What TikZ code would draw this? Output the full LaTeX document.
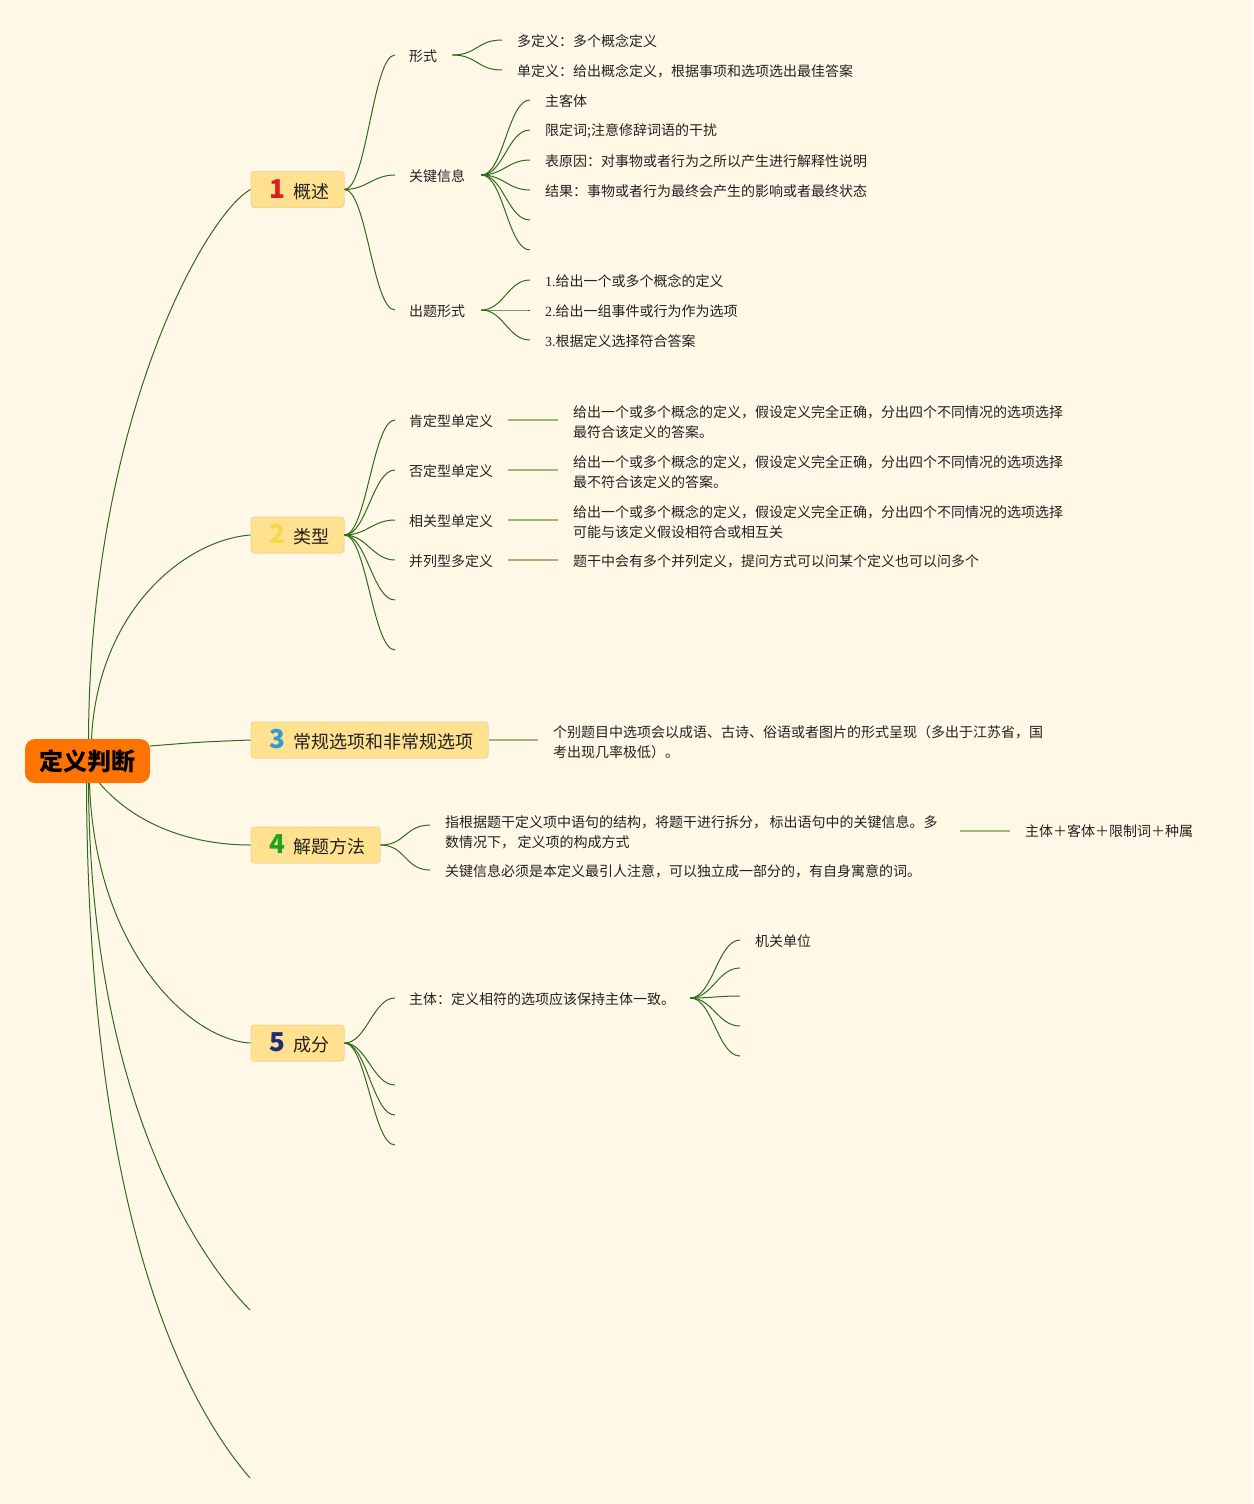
\documentclass[tikz,border=0pt]{standalone}
\usepackage{fontspec}
\setmainfont{Noto Sans CJK SC}
\newfontfamily\serifd{Liberation Serif}
\definecolor{bg}{HTML}{FFF8E6}
\definecolor{rootc}{HTML}{FF7300}
\definecolor{boxf}{HTML}{FFE18F}
\definecolor{boxd}{HTML}{F0D69A}
\definecolor{lineg}{HTML}{2F6A1F}
\definecolor{stemg}{HTML}{9CB87A}
\definecolor{txt}{HTML}{222222}
\definecolor{n1}{HTML}{D91F1F}
\definecolor{n2}{HTML}{F5D948}
\definecolor{n3}{HTML}{2E9AD8}
\definecolor{n4}{HTML}{22A022}
\definecolor{n5}{HTML}{1E2A7A}
\begin{document}
\begin{tikzpicture}[x=1pt,y=-1pt,
  edge/.style={draw=lineg, line width=1pt},
  stem/.style={draw=stemg, line width=1.8pt},
  leaf/.style={anchor=west, inner sep=0pt, yshift=-1pt, font=\fontsize{14}{20}\selectfont, text=txt, align=left},
  topic/.style={draw=boxd, fill=boxf, rounded corners=3pt, line width=1pt, minimum height=36pt, inner sep=0pt, text=txt, font=\fontsize{18}{22}\selectfont}]
\fill[bg] (0,0) rectangle (1253,1504);
\useasboundingbox (0,0) rectangle (1253,1504);
\newcommand{\nm}[2]{\hspace*{4pt}\textcolor{#1}{\fontsize{26}{26}\selectfont\bfseries #2}\hspace{8pt}}

% root
\node[fill=rootc, rounded corners=10pt, minimum width=125pt, minimum height=44pt, inner sep=0pt, font=\fontsize{24}{24}\selectfont\bfseries, text=black] (root) at (87.5,761) {定义判断};

% topics
\node[topic, minimum width=93pt] (t1) at (297.5,189.5) {\nm{n1}{1}概述};
\node[topic, minimum width=93pt] (t2) at (297.5,535) {\nm{n2}{2}类型};
\node[topic, minimum width=237pt] (t3) at (369.5,740) {\nm{n3}{3}常规选项和非常规选项};
\node[topic, minimum width=129pt] (t4) at (315.5,845) {\nm{n4}{4}解题方法};
\node[topic, minimum width=93pt] (t5) at (297.5,1043) {\nm{n5}{5}成分};
\coordinate (b6) at (250,1310);
\coordinate (b7) at (250,1478);

% root edges
\draw[edge] ([xshift=1pt]root.north) .. controls (90,420) and (205,215) .. (t1.west);
\draw[edge] ([xshift=4pt]root.north) .. controls (98,610) and (185,540) .. (t2.west);
\draw[edge] ([yshift=15pt]root.east) .. controls (200,742) .. (t3.west);
\draw[edge] ([xshift=12pt]root.south) .. controls (140,830) and (200,845) .. (t4.west);
\draw[edge] ([xshift=2pt]root.south) .. controls (95,950) and (190,1040) .. (t5.west);
\draw[edge] ([xshift=1pt]root.south) .. controls (90,1100) and (200,1260) .. (b6);
\draw[edge] ([xshift=-1pt]root.south) .. controls (88,1250) and (200,1420) .. (b7);

% 1 概述
\node[leaf] (xs) at (409,55) {形式};
\node[leaf] (gj) at (409,175) {关键信息};
\node[leaf] (ct) at (409,310) {出题形式};
\foreach \c in {xs,gj,ct}
  \draw[edge] (t1.east) .. controls +(22,0) and +(-22,0) .. ([xshift=-14pt,yshift=1pt]\c.west);

\node[leaf] (xs1) at (517,40) {多定义：多个概念定义};
\node[leaf] (xs2) at (517,70) {单定义：给出概念定义，根据事项和选项选出最佳答案};
\foreach \c in {xs1,xs2}
  \draw[edge] ([xshift=15pt,yshift=1pt]xs.east) .. controls +(25,0) and +(-25,0) .. ([xshift=-15pt,yshift=1pt]\c.west);

\node[leaf] (gj1) at (545,100) {主客体};
\node[leaf] (gj2) at (545,130) {限定词;注意修辞词语的干扰};
\node[leaf] (gj3) at (545,160) {表原因：对事物或者行为之所以产生进行解释性说明};
\node[leaf] (gj4) at (545,190) {结果：事物或者行为最终会产生的影响或者最终状态};
\coordinate (gj5) at (545,221);
\coordinate (gj6) at (545,251);
\foreach \c in {gj1,gj2,gj3,gj4,gj5,gj6}
  \draw[edge] ([xshift=16pt,yshift=1pt]gj.east) .. controls +(22,0) and +(-22,0) .. ([xshift=-15pt,yshift=1pt]\c.west);

\node[leaf] (ct1) at (545,280) {{\serifd 1.}给出一个或多个概念的定义};
\node[leaf] (ct2) at (545,310) {{\serifd 2.}给出一组事件或行为作为选项};
\node[leaf] (ct3) at (545,340) {{\serifd 3.}根据定义选择符合答案};
\foreach \c in {ct1,ct2,ct3}
  \draw[edge] ([xshift=16pt,yshift=1pt]ct.east) .. controls +(22,0) and +(-22,0) .. ([xshift=-15pt,yshift=1pt]\c.west);

% 2 类型
\node[leaf] (lx1) at (409,420) {肯定型单定义};
\node[leaf] (lx2) at (409,470) {否定型单定义};
\node[leaf] (lx3) at (409,520) {相关型单定义};
\node[leaf] (lx4) at (409,560) {并列型多定义};
\coordinate (lx5) at (409,601);
\coordinate (lx6) at (409,651);
\foreach \c in {lx1,lx2,lx3,lx4,lx5,lx6}
  \draw[edge] (t2.east) .. controls +(22,0) and +(-22,0) .. ([xshift=-14pt,yshift=1pt]\c.west);

\node[leaf] (ds1) at (573,421) {给出一个或多个概念的定义，假设定义完全正确，分出四个不同情况的选项选择\\最符合该定义的答案。};
\node[leaf] (ds2) at (573,471) {给出一个或多个概念的定义，假设定义完全正确，分出四个不同情况的选项选择\\最不符合该定义的答案。};
\node[leaf] (ds3) at (573,521) {给出一个或多个概念的定义，假设定义完全正确，分出四个不同情况的选项选择\\可能与该定义假设相符合或相互关};
\node[leaf] (ds4) at (573,560) {题干中会有多个并列定义，提问方式可以问某个定义也可以问多个};
\foreach \a/\b in {lx1/ds1,lx2/ds2,lx3/ds3,lx4/ds4}
  \draw[stem] ([xshift=15pt,yshift=1pt]\a.east) -- ([xshift=-15pt,yshift=1pt]\b.west |- \a.east);

% 3
\node[leaf] (cg) at (553,741) {个别题目中选项会以成语、古诗、俗语或者图片的形式呈现（多出于江苏省，国\\考出现几率极低）。};
\draw[stem] (t3.east) -- ([xshift=-15pt]cg.west |- t3.east);

% 4 解题方法
\node[leaf] (jf1) at (445,831) {指根据题干定义项中语句的结构，将题干进行拆分，\,标出语句中的关键信息。多\\数情况下，\,定义项的构成方式};
\node[leaf] (jf2) at (445,870) {关键信息必须是本定义最引人注意，可以独立成一部分的，有自身寓意的词。};
\node[leaf] (zt) at (1025,830) {主体＋客体＋限制词＋种属};
\coordinate (j1) at (960,831);
\draw[edge] (t4.east) .. controls +(25,0) and +(-25,0) .. ([xshift=-15pt,yshift=-10pt]jf1.north west);
\draw[edge] (t4.east) .. controls +(25,0) and +(-25,0) .. ([xshift=-15pt,yshift=1pt]jf2.west);
\draw[stem] (j1) -- ([xshift=-15pt]zt.west |- j1);

% 5 成分
\node[leaf] (cf1) at (409,998) {主体：定义相符的选项应该保持主体一致。};
\coordinate (cf2) at (409,1086);
\coordinate (cf3) at (409,1116);
\coordinate (cf4) at (409,1146);
\foreach \c in {cf1,cf2,cf3,cf4}
  \draw[edge] (t5.east) .. controls +(22,0) and +(-22,0) .. ([xshift=-14pt,yshift=1pt]\c.west);

\node[leaf] (jg1) at (755,940) {机关单位};
\coordinate (jg2) at (755,969);
\coordinate (jg3) at (755,997);
\coordinate (jg4) at (755,1027);
\coordinate (jg5) at (755,1057);
\foreach \c in {jg1,jg2,jg3,jg4,jg5}
  \draw[edge] ([xshift=15pt,yshift=1pt]cf1.east) .. controls +(22,0) and +(-22,0) .. ([xshift=-15pt,yshift=1pt]\c.west);
\end{tikzpicture}
\end{document}
